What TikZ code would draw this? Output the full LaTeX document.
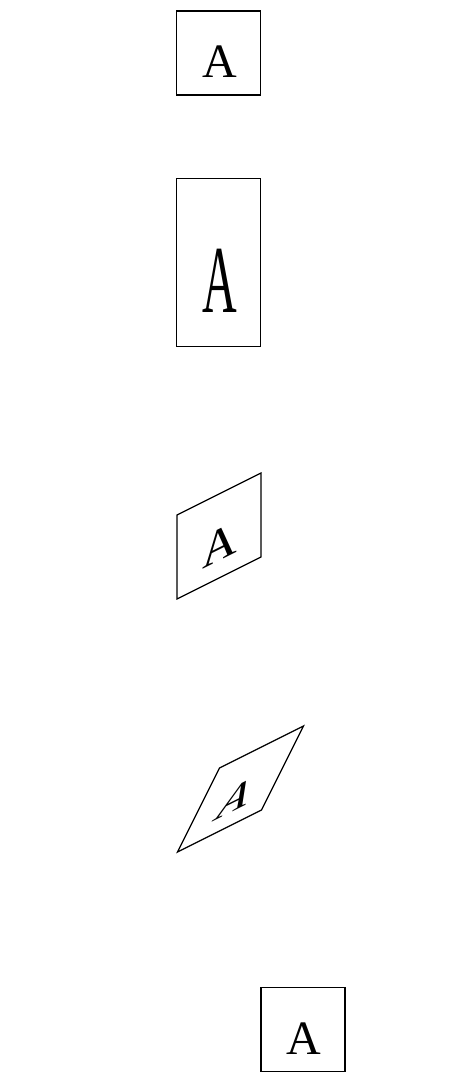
\documentclass[tikz,border=0pt]{standalone}
\usepackage{fontspec}
\setmainfont{Liberation Serif}
\begin{document}
\begin{tikzpicture}[x=0.5pt,y=0.5pt,
  boxshape/.style={draw, line width=0.6pt, minimum width=42pt, minimum height=42pt, inner sep=0pt, transform shape},
  letter/.style={inner sep=0pt, font=\fontsize{24}{28}\selectfont, transform shape}]
\fill[white] (0,0) rectangle (454,-1074);
\useasboundingbox (0,0) rectangle (454,-1074);
\begin{scope}[shift={(218.5,-53)}]
  \node[boxshape] (b1) at (0,0) {};
  \node[letter] (a1) at (1,-9) {A};
\end{scope}
\begin{scope}[shift={(218.5,-262.5)}, yscale=2]
  \node[boxshape] (b2) at (0,0) {};
  \node[letter] (a2) at (1,-9) {A};
\end{scope}
\begin{scope}[shift={(219,-536)}, yslant=0.5]
  \node[boxshape] (b3) at (0,0) {};
  \node[letter] (a3) at (1,-9) {A};
\end{scope}
\begin{scope}[shift={(240.5,-789)}, cm={1,0.5,0.5,1,(0,0)}]
  \node[boxshape] (b4) at (0,0) {};
  \node[letter] (a4) at (1,-9) {A};
\end{scope}
\begin{scope}[shift={(303,-1029.5)}]
  \node[boxshape] (b5) at (0,0) {};
  \node[letter] (a5) at (1,-9) {A};
\end{scope}
\end{tikzpicture}
\end{document}
